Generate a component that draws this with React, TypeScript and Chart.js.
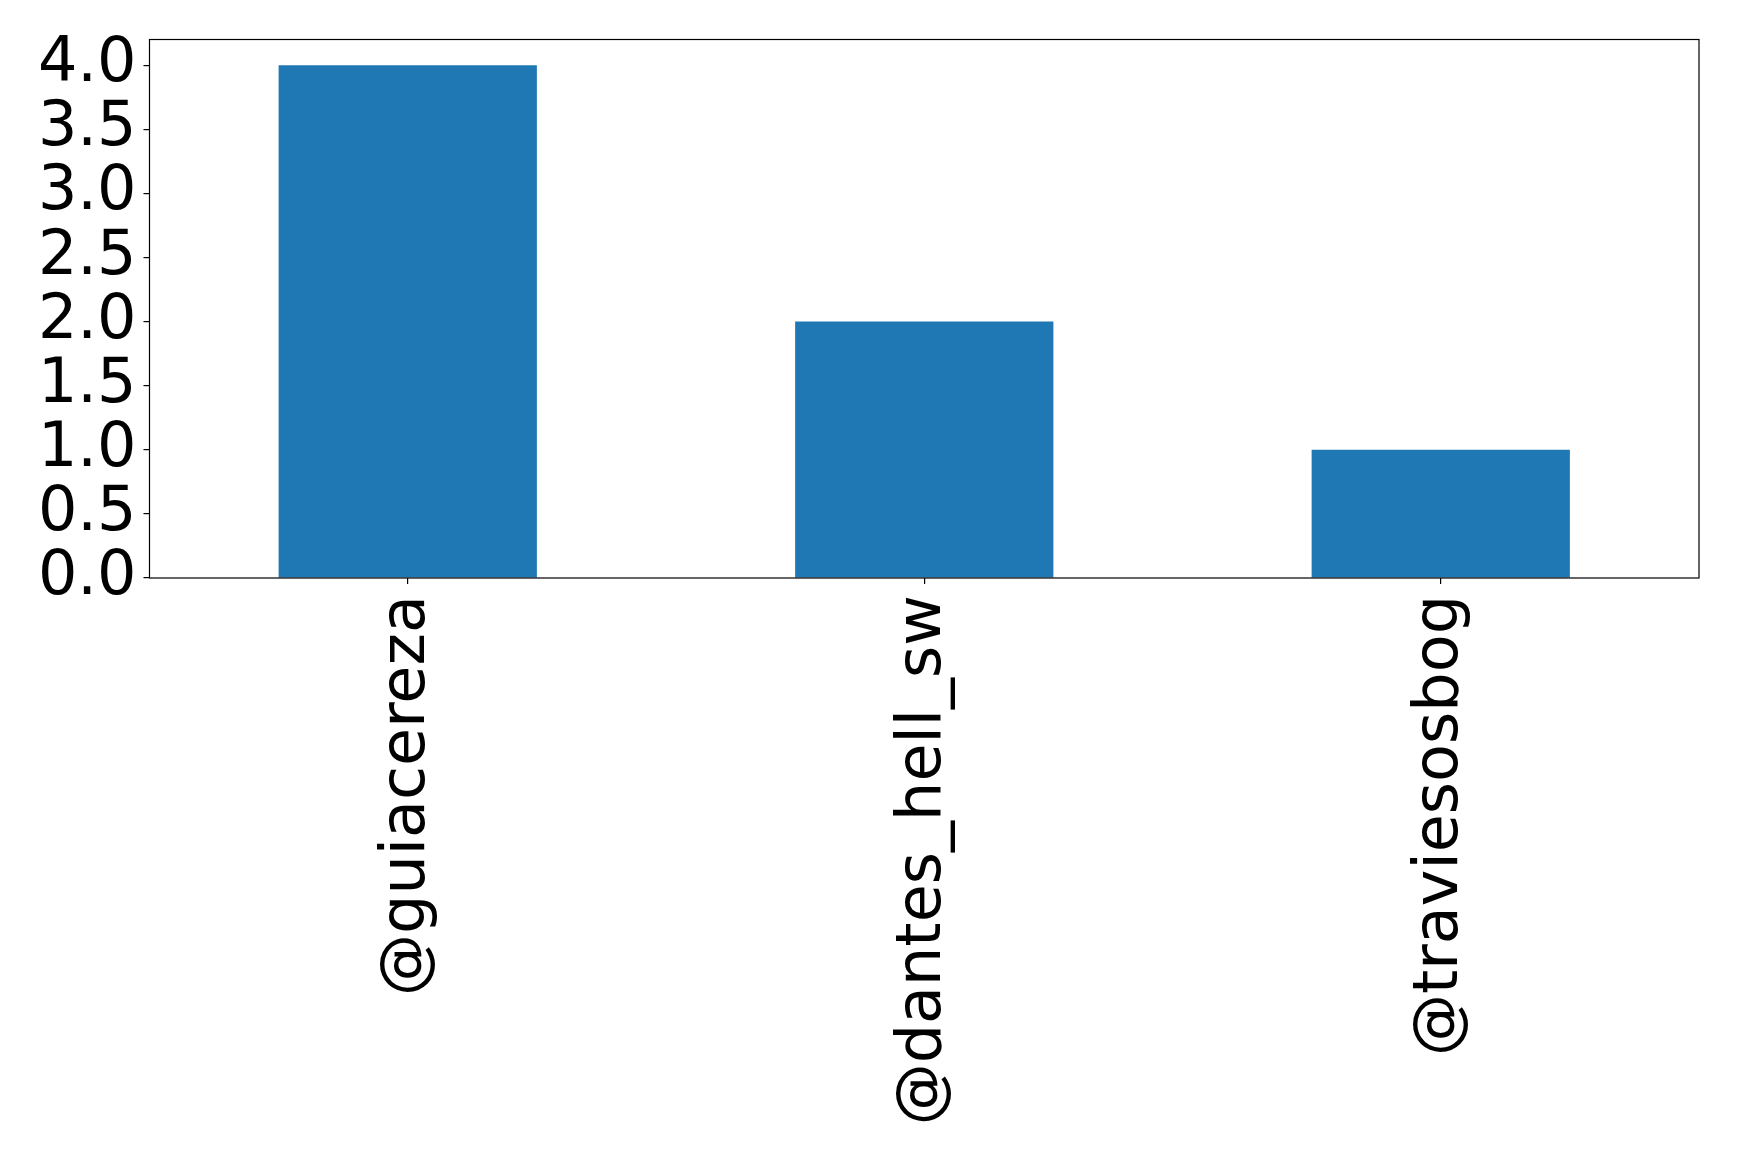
import React, { useEffect, useRef } from "react";
import { Chart, registerables } from "chart.js";

Chart.register(...registerables);

const categories = ["@guiacereza", "@dantes_hell_sw", "@traviesosbog"];
const values = [4, 2, 1];
const yTicks = [0, 0.5, 1, 1.5, 2, 2.5, 3, 3.5, 4];

const W = 1739;
const H = 1162;
const LEFT = 149.5;
const TOP = 39.5;
const RIGHT = 1699;
const BOTTOM = 578;
const FONT = "'DejaVu Sans', sans-serif";
const FONT_SIZE = 62;

const framePlugin = {
  id: "frame",
  afterDatasetsDraw(chart: any) {
    const { ctx, chartArea } = chart;
    ctx.save();
    ctx.strokeStyle = "#000";
    ctx.lineWidth = 1.2;
    ctx.strokeRect(chartArea.left, chartArea.top, chartArea.right - chartArea.left, chartArea.bottom - chartArea.top);
    ctx.restore();
  },
};

export default function App() {
  const ref = useRef<HTMLCanvasElement | null>(null);
  useEffect(() => {
    if (!ref.current) return;
    const chart = new Chart(ref.current, {
      type: "bar",
      data: {
        labels: categories,
        datasets: [
          {
            data: values,
            backgroundColor: "#1f77b4",
            borderWidth: 0,
            categoryPercentage: 1,
            barPercentage: 0.5,
          },
        ],
      },
      options: {
        animation: false,
        responsive: false,
        maintainAspectRatio: false,
        layout: { padding: { top: TOP, right: W - RIGHT, left: 0, bottom: 0 } },
        plugins: { legend: { display: false }, tooltip: { enabled: false } },
        scales: {
          x: {
            offset: true,
            grid: { display: true, offset: false, drawOnChartArea: false, drawTicks: true, tickLength: 6, color: "#000", lineWidth: 1.2 },
            border: { display: false },
            ticks: {
              color: "#000",
              font: { family: FONT, size: FONT_SIZE },
              minRotation: 90,
              maxRotation: 90,
              padding: 11,
              autoSkip: false,
            },
            afterFit(scale: any) {
              scale.height = H - BOTTOM;
              scale.paddingLeft = 0;
              scale.paddingRight = 0;
            },
          },
          y: {
            min: 0,
            max: 4.2,
            afterBuildTicks(scale: any) {
              scale.ticks = yTicks.map((v) => ({ value: v }));
            },
            grid: { display: true, drawOnChartArea: false, drawTicks: true, tickLength: 6, color: "#000", lineWidth: 1.2 },
            border: { display: false },
            ticks: {
              color: "#000",
              font: { family: FONT, size: FONT_SIZE },
              padding: 7,
              autoSkip: false,
              callback: (v: any) => Number(v).toFixed(1),
            },
            afterFit(scale: any) {
              scale.width = LEFT;
              scale.paddingTop = 0;
              scale.paddingBottom = 0;
            },
          },
        },
      },
      plugins: [framePlugin],
    });
    return () => chart.destroy();
  }, []);
  return (
    <div style={{ position: "fixed", left: 0, top: 0, width: W, height: H, background: "#fff" }}>
      <canvas ref={ref} width={W} height={H} style={{ width: W, height: H, display: "block" }} />
    </div>
  );
}
